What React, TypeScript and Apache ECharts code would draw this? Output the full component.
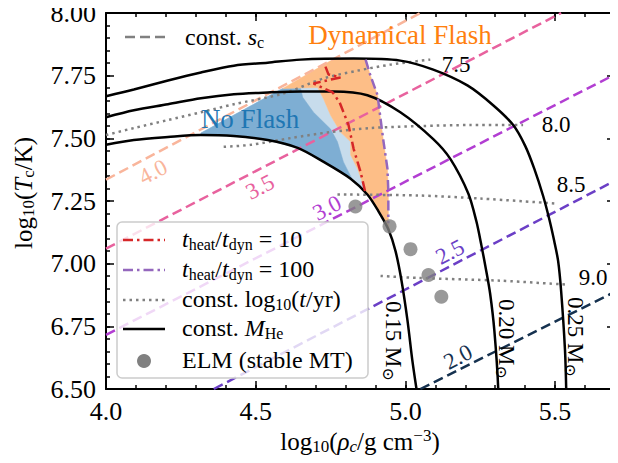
import React, { useEffect, useRef } from "react";
import * as echarts from "echarts";

const F = "'Liberation Serif', 'DejaVu Serif', serif";

// axis ranges
const xRange = [4.0, 5.7];
const yRange = [6.5, 8.0];

// constant helium-core mass tracks (log rho_c, log T_c)
const mass015 = [[4.000,7.474],[4.093,7.493],[4.207,7.505],[4.317,7.513],[4.427,7.509],[4.540,7.493],[4.640,7.462],[4.727,7.406],[4.817,7.339],[4.873,7.276],[4.910,7.209],[4.943,7.137],[4.967,7.050],[4.987,6.932],[5.007,6.773],[5.023,6.615],[5.037,6.500]];
const mass020 = [[4.000,7.584],[4.093,7.612],[4.207,7.636],[4.317,7.660],[4.427,7.676],[4.540,7.683],[4.650,7.687],[4.760,7.687],[4.873,7.672],[4.983,7.604],[5.093,7.497],[5.150,7.418],[5.210,7.280],[5.237,7.169],[5.253,7.078],[5.270,6.971],[5.283,6.880],[5.297,6.734],[5.310,6.500]];
const mass025 = [[4.000,7.668],[4.093,7.695],[4.207,7.731],[4.317,7.763],[4.427,7.790],[4.540,7.802],[4.650,7.814],[4.827,7.818],[4.983,7.810],[5.093,7.774],[5.207,7.711],[5.293,7.632],[5.360,7.553],[5.400,7.470],[5.430,7.380],[5.460,7.270],[5.480,7.180],[5.497,7.090],[5.510,7.011],[5.520,6.892],[5.533,6.655],[5.537,6.500]];

// constant log10(t/yr) curves
const t75 = [[4.000,7.513],[4.093,7.541],[4.207,7.573],[4.317,7.604],[4.427,7.636],[4.593,7.679],[4.727,7.739],[4.840,7.770],[4.950,7.794],[5.083,7.814]];
const t80 = [[4.393,7.466],[4.483,7.474],[4.617,7.501],[4.750,7.525],[4.883,7.541],[5.050,7.549],[5.217,7.553],[5.393,7.553]];
const t85 = [[4.773,7.276],[5.043,7.272],[5.250,7.260],[5.500,7.240]];
const t90 = [[4.917,6.951],[5.043,6.943],[5.317,6.932],[5.543,6.916]];

// constant central entropy lines
const s40 = [[4.0,7.335],[5.05,8.0]];
const s35 = [[4.0,7.060],[5.52,8.0]];
const s30 = [[4.0,6.716],[5.7,7.755]];
const s25 = [[4.36,6.5],[5.7,7.331]];
const s20 = [[5.05,6.5],[5.7,6.888]];

// t_heat / t_dyn contours
const heat10 = [[4.733,7.786],[4.743,7.755],[4.783,7.743],[4.693,7.719],[4.757,7.683],[4.780,7.644],[4.810,7.553],[4.827,7.458],[4.850,7.367],[4.867,7.280]];
const heat100 = [[4.867,7.814],[4.883,7.751],[4.907,7.672],[4.917,7.577],[4.927,7.486],[4.940,7.379],[4.943,7.288],[4.943,7.161]];

// regions
const noFlashOuter = [[4.317,7.521],[4.590,7.699],[4.707,7.703],[4.727,7.656],[4.750,7.592],[4.783,7.525],[4.817,7.486],[4.817,7.434],[4.840,7.379],[4.867,7.288],[4.817,7.339],[4.727,7.406],[4.640,7.462],[4.540,7.493],[4.427,7.509],[4.317,7.513]];
const noFlashInner = [[4.317,7.521],[4.590,7.699],[4.650,7.699],[4.657,7.664],[4.693,7.604],[4.750,7.537],[4.773,7.486],[4.793,7.406],[4.823,7.335],[4.727,7.406],[4.640,7.462],[4.540,7.493],[4.427,7.509],[4.317,7.513]];
const dynFlash = [[4.590,7.699],[4.757,7.814],[4.800,7.818],[4.867,7.814],[4.883,7.751],[4.907,7.672],[4.917,7.577],[4.927,7.486],[4.940,7.379],[4.943,7.288],[4.943,7.161],[4.947,7.133],[4.910,7.209],[4.873,7.276],[4.867,7.288],[4.840,7.379],[4.817,7.434],[4.817,7.486],[4.783,7.525],[4.750,7.592],[4.727,7.656],[4.707,7.703]];

// ELM white dwarfs from stable mass transfer
const elm = [[4.833,7.228],[4.947,7.149],[5.017,7.058],[5.077,6.955],[5.120,6.868]];

const sColors = { "2.0": "#15314f", "2.5": "#6b3fc6", "3.0": "#b23ed2", "3.5": "#e8629e", "4.0": "#f9b59b" };

const tick = (v: number, d: number) => v.toFixed(d);

const rich = (size: number, color = "#000") => {
  const s = Math.round(size * 0.68);
  const lh = Math.round(size * 1.1);
  return {
    n: { fontSize: size, fontFamily: F, fill: color, color, lineHeight: lh },
    it: { fontSize: size, fontFamily: F, fontStyle: "italic", fill: color, color, lineHeight: lh },
    sub: { fontSize: s, fontFamily: F, fill: color, color, lineHeight: s, verticalAlign: "bottom" },
    subi: { fontSize: s, fontFamily: F, fontStyle: "italic", fill: color, color, lineHeight: s, verticalAlign: "bottom" },
    sup: { fontSize: s, fontFamily: F, fill: color, color, lineHeight: Math.round(size * 0.8), verticalAlign: "top" },
  };
};

function polygon(pts: number[][], color: string, z: number) {
  return {
    type: "custom",
    coordinateSystem: "cartesian2d",
    silent: true,
    z,
    data: [[4.5, 7.5]],
    renderItem: (_p: any, api: any) => ({
      type: "polygon",
      shape: { points: pts.map((p) => api.coord(p)) },
      style: { fill: color, stroke: color, lineWidth: 0.5 },
    }),
  };
}

function line(data: number[][], color: string, type: any, width = 2.5, smooth: any = false, z = 3) {
  return {
    type: "line",
    data,
    symbol: "none",
    showSymbol: false,
    silent: true,
    smooth,
    z,
    lineStyle: { color, width, type, cap: "butt" },
  };
}

function xAxis(position: string, interval: number, len: number, labels: boolean, lineShow: boolean) {
  return {
    type: "value",
    position,
    min: xRange[0],
    max: xRange[1],
    interval,
    axisLine: { show: lineShow, onZero: false, lineStyle: { color: "#000", width: 2 } },
    axisTick: { show: true, inside: true, length: len, lineStyle: { color: "#000", width: 1.5 } },
    axisLabel: { show: labels, formatter: (v: number) => tick(v, 1), showMaxLabel: false, showMinLabel: true, fontSize: 26, fontFamily: F, color: "#000", margin: 9 },
    splitLine: { show: false },
  };
}
function yAxis(position: string, interval: number, len: number, labels: boolean, lineShow: boolean) {
  return {
    type: "value",
    position,
    min: yRange[0],
    max: yRange[1],
    interval,
    axisLine: { show: lineShow, onZero: false, lineStyle: { color: "#000", width: 2 } },
    axisTick: { show: true, inside: true, length: len, lineStyle: { color: "#000", width: 1.5 } },
    axisLabel: { show: labels, formatter: (v: number) => tick(v, 2), showMaxLabel: true, showMinLabel: true, fontSize: 26, fontFamily: F, color: "#000", margin: 10 },
    splitLine: { show: false },
  };
}

function txt(x: number, y: number, text: string, size: number, color: string, rotation = 0, align = "center") {
  return {
    type: "text",
    x,
    y,
    rotation,
    z: 20,
    silent: true,
    style: { text, rich: rich(size, color), fill: color, fontSize: size, fontFamily: F, align, verticalAlign: "middle" },
  };
}

function legendLine(y: number, stroke: string, lineDash: any) {
  return {
    type: "line",
    z: 21,
    silent: true,
    shape: { x1: 123, y1: y, x2: 165, y2: y },
    style: { stroke, lineWidth: 2.5, lineDash },
  };
}

export default function App() {
  const ref = useRef<HTMLDivElement>(null);
  useEffect(() => {
    if (!ref.current) return;
    const chart = echarts.init(ref.current, undefined, { renderer: "svg" });
    const rot = 0.48;
    chart.setOption({
      animation: false,
      backgroundColor: "#fff",
      grid: { left: 106, right: 3, top: 10, bottom: 74, containLabel: false },
      xAxis: [
        xAxis("bottom", 0.5, 8, true, true),
        xAxis("bottom", 0.1, 4, false, false),
        xAxis("top", 0.5, 8, false, true),
        xAxis("top", 0.1, 4, false, false),
      ],
      yAxis: [
        yAxis("left", 0.25, 8, true, true),
        yAxis("left", 0.05, 4, false, false),
        yAxis("right", 0.25, 8, false, true),
        yAxis("right", 0.05, 4, false, false),
      ],
      series: [
        polygon(noFlashOuter, "#c7dcec", 1),
        polygon(noFlashInner, "#7eaed3", 1),
        polygon(dynFlash, "#fdbe87", 1),
        line(s40, sColors["4.0"], [10, 5], 2.5),
        line(s35, sColors["3.5"], [10, 5], 2.5),
        line(s30, sColors["3.0"], [10, 5], 2.5),
        line(s25, sColors["2.5"], [10, 5], 2.5),
        line(s20, sColors["2.0"], [10, 5], 2.5),
        line(t75, "#808080", [2.5, 4], 2.5, 0.3),
        line(t80, "#808080", [2.5, 4], 2.5, 0.3),
        line(t85, "#808080", [2.5, 4], 2.5, 0.3),
        line(t90, "#808080", [2.5, 4], 2.5, 0.3),
        line(mass015, "#000", "solid", 2.5, 0.3, 4),
        line(mass020, "#000", "solid", 2.5, 0.3, 4),
        line(mass025, "#000", "solid", 2.5, 0.3, 4),
        line(heat10, "#d62728", [10, 4, 2.5, 4], 2.5, false, 5),
        line(heat100, "#9467bd", [10, 4, 2.5, 4], 2.5, false, 5),
        {
          type: "scatter",
          data: elm,
          symbol: "circle",
          symbolSize: 14,
          silent: true,
          z: 6,
          itemStyle: { color: "#808080" },
        },
      ],
      graphic: [
        // axis titles
        txt(360, 441, "{n|log}{sub|10}{n|(}{it|ρ}{subi|c}{n|/g cm}{sup|−3}{n|)}", 25, "#000"),
        txt(23, 193, "{n|log}{sub|10}{n|(}{it|T}{sub|c}{n|/K)}", 25, "#000", Math.PI / 2),
        // region names
        txt(400, 35, "{n|Dynamical Flash}", 27, "#ff7f0e"),
        txt(250, 119, "{n|No Flash}", 27, "#1f77b4"),
        // const t labels
        txt(456, 64, "{n|7.5}", 23, "#000"),
        txt(556, 124, "{n|8.0}", 23, "#000"),
        txt(571, 184, "{n|8.5}", 23, "#000"),
        txt(593, 277, "{n|9.0}", 23, "#000"),
        // mass labels
        txt(393, 341, "{n|0.15 M}{sub|⊙}", 23, "#000", -Math.PI / 2),
        txt(506, 339, "{n|0.20 M}{sub|⊙}", 23, "#000", -Math.PI / 2),
        txt(575, 337, "{n|0.25 M}{sub|⊙}", 23, "#000", -Math.PI / 2),
        // entropy labels
        txt(153, 172, "{n|4.0}", 23, sColors["4.0"], rot),
        txt(260, 187, "{n|3.5}", 23, sColors["3.5"], rot),
        txt(327, 208, "{n|3.0}", 23, sColors["3.0"], rot),
        txt(450, 252, "{n|2.5}", 23, sColors["2.5"], rot),
        txt(458, 357, "{n|2.0}", 23, sColors["2.0"], rot),
        // const s legend
        {
          type: "line", z: 21, silent: true,
          shape: { x1: 125, y1: 37, x2: 168, y2: 37 },
          style: { stroke: "#808080", lineWidth: 2.5, lineDash: [10, 5] },
        },
        txt(185, 37, "{n|const. }{it|s}{sub|c}", 24, "#000", 0, "left"),
        // main legend
        {
          type: "rect", z: 19, silent: true,
          shape: { x: 117, y: 222, width: 251, height: 156, r: 5 },
          style: { fill: "rgba(255,255,255,0.8)", stroke: "#cccccc", lineWidth: 1.5 },
        },
        legendLine(240, "#d62728", [10, 4, 2.5, 4]),
        legendLine(270, "#9467bd", [10, 4, 2.5, 4]),
        legendLine(300, "#808080", [2.5, 4]),
        legendLine(329, "#000", null),
        {
          type: "circle", z: 21, silent: true,
          shape: { cx: 144, cy: 361, r: 7 },
          style: { fill: "#808080" },
        },
        txt(182, 239, "{it|t}{sub|heat}{n|/}{it|t}{sub|dyn}{n| = 10}", 24, "#000", 0, "left"),
        txt(182, 269, "{it|t}{sub|heat}{n|/}{it|t}{sub|dyn}{n| = 100}", 24, "#000", 0, "left"),
        txt(182, 299, "{n|const. log}{sub|10}{n|(}{it|t}{n|/yr)}", 24, "#000", 0, "left"),
        txt(182, 328, "{n|const. }{it|M}{sub|He}", 24, "#000", 0, "left"),
        txt(182, 360, "{n|ELM (stable MT)}", 24, "#000", 0, "left"),
      ],
    });
    return () => chart.dispose();
  }, []);
  return <div ref={ref} style={{ width: 618, height: 463, margin: -8 }} />;
}
